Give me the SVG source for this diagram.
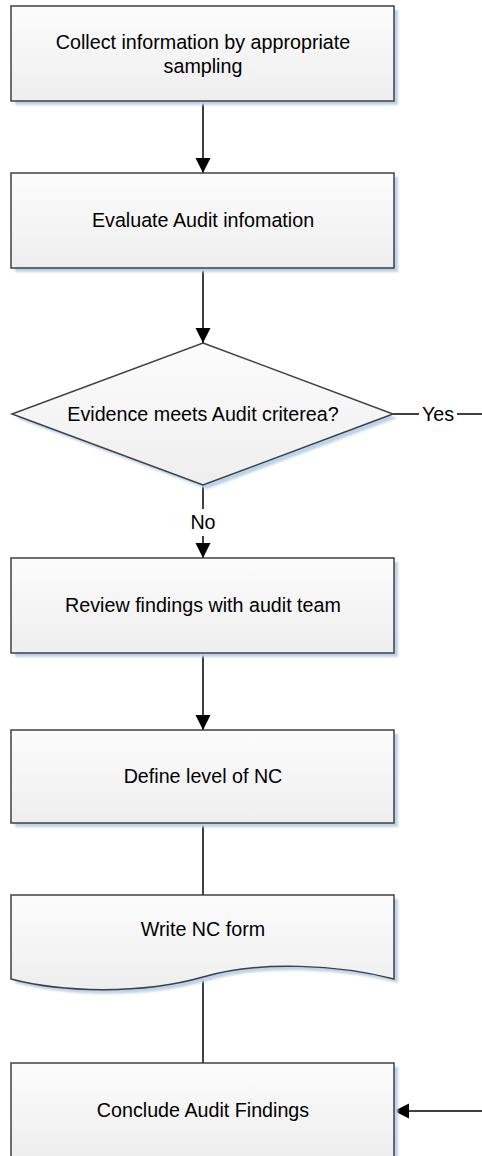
<svg xmlns="http://www.w3.org/2000/svg" width="482" height="1156" viewBox="0 0 482 1156">
<defs>
<linearGradient id="g" x1="0" y1="0" x2="0" y2="1">
<stop offset="0" stop-color="#fcfcfc"/>
<stop offset="1" stop-color="#eeeeee"/>
</linearGradient>
<filter id="blur" x="-10%" y="-10%" width="120%" height="120%"><feGaussianBlur stdDeviation="1.2"/></filter>
<marker id="arr" markerUnits="userSpaceOnUse" markerWidth="16" markerHeight="16" refX="15" refY="7.5" orient="auto" viewBox="0 0 16 16">
<path d="M0,0 L15,7.5 L0,15 Z" fill="#000"/>
</marker>
<style>
.sh{fill:#bcd3ea;filter:url(#blur)}
.nd{fill:url(#g);stroke:#404040;stroke-width:1.5}
.t{font-family:"Liberation Sans",Arial,sans-serif;font-size:19.7px;fill:#000;text-anchor:middle}
.c{fill:none;stroke:#000;stroke-width:1.5}
.ca{fill:none;stroke:#000;stroke-width:1.5;marker-end:url(#arr)}
.lb{font-family:"Liberation Sans",Arial,sans-serif;font-size:19.7px;fill:#000;text-anchor:middle}
</style>
</defs>
<g id="connectors">
<path class="ca" d="M203,101 V173"/>
<path class="ca" d="M203,268 V343"/>
<path class="c" d="M203,485 V509"/>
<path class="ca" d="M203,536 V558"/>
<path class="ca" d="M203,653 V730"/>
<path class="c" d="M203,823 V895"/>
<path class="c" d="M203,978 V1063"/>
<path class="c" d="M393,414 H419"/>
<path class="c" d="M457,414 H482"/>
<path class="ca" d="M482,1111 H394"/>
<text class="lb" x="203" y="529">No</text>
<text class="lb" x="438" y="421">Yes</text>
</g>
<g id="n1">
<rect class="sh" x="15" y="10" width="383" height="95"/>
<rect class="nd" x="11" y="6" width="383" height="95"/>
<text class="t" x="203" y="49">Collect information by appropriate</text>
<text class="t" x="203" y="73">sampling</text>
</g>
<g id="n2">
<rect class="sh" x="15" y="177" width="383" height="95"/>
<rect class="nd" x="11" y="173" width="383" height="95"/>
<text class="t" x="203" y="227">Evaluate Audit infomation</text>
</g>
<g id="n3">
<path class="sh" d="M207,347 L397,418 L207,489 L16,418 Z"/>
<path class="nd" d="M203,343 L393,414 L203,485 L12,414 Z"/>
<text class="t" x="203" y="421">Evidence meets Audit criterea?</text>
</g>
<g id="n4">
<rect class="sh" x="15" y="562" width="383" height="95"/>
<rect class="nd" x="11" y="558" width="383" height="95"/>
<text class="t" x="203" y="612">Review findings with audit team</text>
</g>
<g id="n5">
<rect class="sh" x="15" y="734" width="383" height="93"/>
<rect class="nd" x="11" y="730" width="383" height="93"/>
<text class="t" x="203" y="783">Define level of NC</text>
</g>
<g id="n6">
<path class="sh" d="M15,899 H398 V983 C344,969 264,964 207,981 C144,999 64,996 15,983 Z"/>
<path class="nd" d="M11,895 H394 V979 C340,965 260,960 203,977 C140,995 60,992 11,979 Z"/>
<text class="t" x="203" y="936">Write NC form</text>
</g>
<g id="n7">
<rect class="sh" x="15" y="1067" width="383" height="95"/>
<rect class="nd" x="11" y="1063" width="383" height="95"/>
<text class="t" x="203" y="1117">Conclude Audit Findings</text>
</g>
</svg>
